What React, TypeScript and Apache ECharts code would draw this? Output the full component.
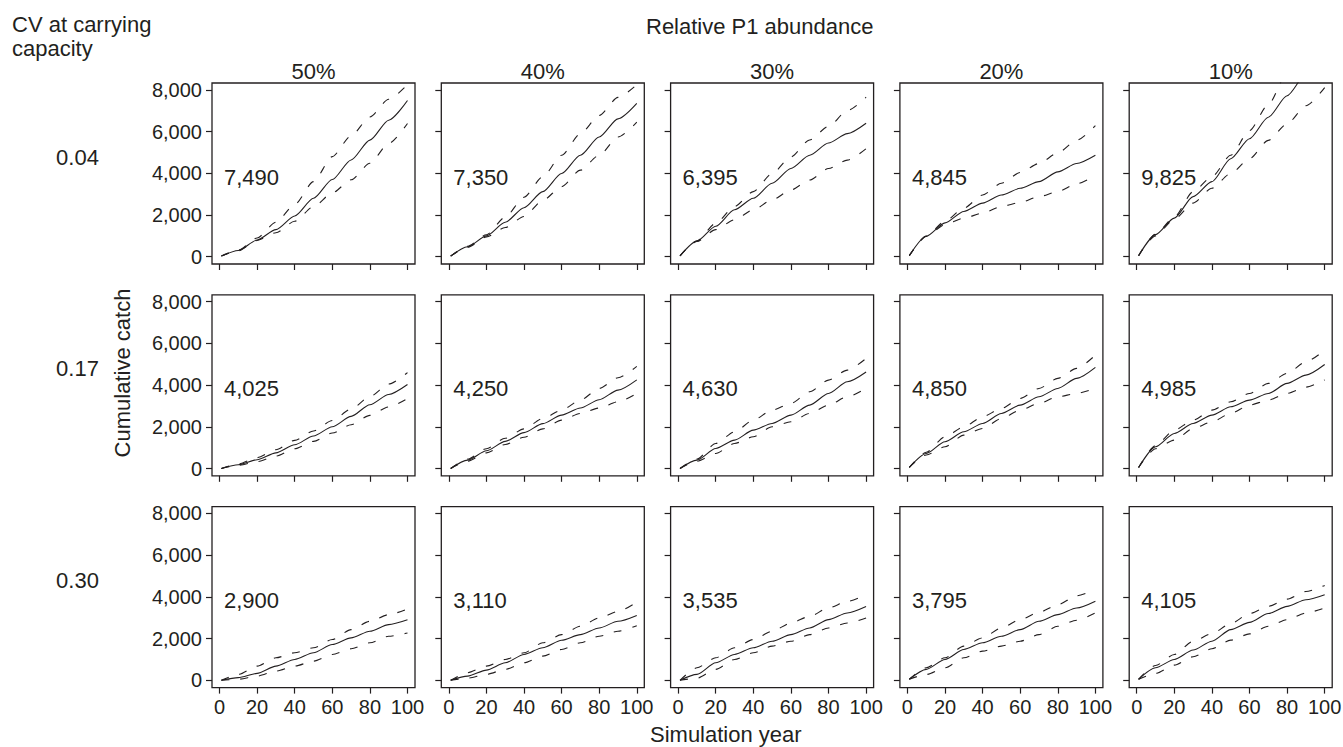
import React, { useEffect, useRef } from "react";
import * as echarts from "echarts";

// ---------- data ----------
const years = [1, 10, 20, 30, 40, 50, 60, 70, 80, 90, 100];
const columnLabels = ["50%", "40%", "30%", "20%", "10%"];
const rowLabels = ["0.04", "0.17", "0.30"];
const yTicks = [0, 2000, 4000, 6000, 8000];
const xTicks = [0, 20, 40, 60, 80, 100];
const finalCatch = [
  [7490, 7350, 6395, 4845, 9825],
  [4025, 4250, 4630, 4850, 4985],
  [2900, 3110, 3535, 3795, 4105],
];

// CV 0.04
const med_a50 = [30, 300, 800, 1300, 1950, 2800, 3700, 4640, 5590, 6545, 7490];
const upp_a50 = [30, 320, 900, 1650, 2500, 3600, 4800, 5800, 6700, 7550, 8250];
const low_a50 = [30, 280, 780, 1150, 1700, 2400, 3060, 3690, 4480, 5430, 6390];
const med_a40 = [30, 475, 1000, 1650, 2350, 3120, 3990, 4865, 5740, 6610, 7350];
const upp_a40 = [30, 500, 1050, 1900, 2850, 3835, 4865, 5900, 6770, 7640, 8250];
const low_a40 = [30, 450, 950, 1400, 1930, 2700, 3360, 4150, 4865, 5740, 6450];
const med_a30 = [40, 745, 1460, 2250, 2800, 3520, 4230, 4865, 5450, 5900, 6400];
const upp_a30 = [40, 760, 1600, 2410, 3120, 3990, 4785, 5600, 6250, 7000, 7650];
const low_a30 = [40, 730, 1300, 1775, 2250, 2725, 3200, 3680, 4230, 4630, 5180];
const med_a20 = [50, 980, 1620, 2170, 2570, 2960, 3280, 3600, 4070, 4470, 4865];
const upp_a20 = [50, 990, 1700, 2330, 2960, 3520, 4040, 4470, 4975, 5580, 6290];
const low_a20 = [50, 970, 1540, 1850, 2090, 2410, 2600, 2880, 3120, 3490, 3900];
const med_a10 = [50, 1060, 1850, 2880, 3600, 4700, 5660, 6690, 7720, 8750, 9825];
const upp_a10 = [50, 1080, 1900, 3120, 3835, 4865, 6050, 7300, 8800, 9900, 11000];
const low_a10 = [50, 1000, 1800, 2570, 3280, 3990, 4700, 5580, 6370, 7240, 8110];

// CV 0.17
const med_b50 = [0, 180, 420, 750, 1140, 1560, 2000, 2500, 3060, 3550, 4025];
const upp_b50 = [0, 220, 520, 900, 1350, 1800, 2300, 2850, 3450, 4050, 4600];
const low_b50 = [0, 150, 330, 600, 950, 1300, 1700, 2100, 2550, 2950, 3350];
const med_b40 = [0, 400, 850, 1300, 1720, 2150, 2560, 2900, 3300, 3760, 4250];
const upp_b40 = [0, 450, 950, 1450, 1900, 2400, 2800, 3280, 3840, 4350, 4900];
const low_b40 = [0, 350, 750, 1150, 1500, 1900, 2320, 2640, 2900, 3200, 3600];
const med_b30 = [0, 400, 960, 1360, 1840, 2160, 2560, 3040, 3600, 4160, 4630];
const upp_b30 = [0, 450, 1200, 1760, 2320, 2800, 3120, 3680, 4240, 4720, 5280];
const low_b30 = [0, 350, 720, 1200, 1520, 2000, 2240, 2640, 3040, 3440, 3850];
const med_b20 = [50, 720, 1280, 1760, 2160, 2640, 3040, 3440, 3840, 4320, 4850];
const upp_b20 = [50, 780, 1520, 2000, 2480, 2880, 3360, 3840, 4320, 4800, 5440];
const low_b20 = [50, 650, 1040, 1600, 1920, 2400, 2800, 3120, 3440, 3600, 3850];
const med_b10 = [50, 1040, 1680, 2160, 2560, 2960, 3280, 3600, 4080, 4480, 4985];
const upp_b10 = [50, 1100, 1840, 2320, 2800, 3200, 3600, 4080, 4560, 5120, 5680];
const low_b10 = [50, 950, 1360, 1920, 2240, 2640, 3040, 3280, 3600, 3900, 4250];

// CV 0.30
const med_c50 = [0, 127, 330, 680, 1000, 1320, 1717, 2035, 2350, 2670, 2900];
const upp_c50 = [0, 280, 680, 1080, 1320, 1560, 1955, 2430, 2830, 3150, 3420];
const low_c50 = [0, 50, 200, 445, 680, 920, 1240, 1510, 1800, 2115, 2270];
const med_c40 = [0, 200, 490, 840, 1240, 1560, 1920, 2190, 2510, 2830, 3110];
const upp_c40 = [0, 365, 680, 1000, 1320, 1800, 2190, 2590, 2990, 3300, 3750];
const low_c40 = [0, 100, 285, 525, 840, 1160, 1480, 1800, 2115, 2350, 2620];
const med_c30 = [0, 285, 840, 1240, 1560, 1875, 2190, 2510, 2910, 3230, 3535];
const upp_c30 = [0, 600, 1080, 1560, 1955, 2350, 2750, 3070, 3470, 3780, 4100];
const low_c30 = [0, 100, 525, 1000, 1320, 1640, 1875, 2190, 2510, 2750, 2990];
const med_c20 = [50, 525, 1000, 1480, 1800, 2115, 2430, 2830, 3150, 3470, 3795];
const upp_c20 = [50, 600, 1080, 1640, 2035, 2510, 2910, 3260, 3625, 4050, 4370];
const low_c20 = [50, 280, 600, 1080, 1400, 1640, 1875, 2190, 2590, 2880, 3230];
const med_c10 = [50, 600, 1000, 1450, 1875, 2430, 2780, 3200, 3545, 3860, 4105];
const upp_c10 = [50, 710, 1240, 1875, 2240, 2720, 3200, 3545, 3895, 4260, 4550];
const low_c10 = [50, 330, 730, 1130, 1510, 1925, 2225, 2590, 2910, 3230, 3470];

const panels = [
  [
    [med_a50, upp_a50, low_a50],
    [med_a40, upp_a40, low_a40],
    [med_a30, upp_a30, low_a30],
    [med_a20, upp_a20, low_a20],
    [med_a10, upp_a10, low_a10],
  ],
  [
    [med_b50, upp_b50, low_b50],
    [med_b40, upp_b40, low_b40],
    [med_b30, upp_b30, low_b30],
    [med_b20, upp_b20, low_b20],
    [med_b10, upp_b10, low_b10],
  ],
  [
    [med_c50, upp_c50, low_c50],
    [med_c40, upp_c40, low_c40],
    [med_c30, upp_c30, low_c30],
    [med_c20, upp_c20, low_c20],
    [med_c10, upp_c10, low_c10],
  ],
];

// ---------- layout ----------
const FONT = "'Liberation Sans', Arial, Helvetica, sans-serif";
const INK = "#231f20";
const L0 = 212;
const DX = 229.3;
const W = 203;
const T0 = 83;
const DY = 211.8;
const H = 181;

function fmt(v: number) {
  return v.toLocaleString("en-US");
}

export default function App() {
  const ref = useRef<HTMLDivElement>(null);
  useEffect(() => {
    if (!ref.current) return;
    const chart = echarts.init(ref.current, undefined, { renderer: "svg" });
    const grid: any[] = [];
    const xAxis: any[] = [];
    const yAxis: any[] = [];
    const series: any[] = [];
    const graphic: any[] = [];
    let idx = 0;
    for (let r = 0; r < 3; r++) {
      for (let c = 0; c < 5; c++) {
        const left = L0 + c * DX;
        const top = T0 + r * DY;
        grid.push({
          left,
          top,
          width: W,
          height: H,
          show: true,
          borderColor: INK,
          borderWidth: 1.3,
          backgroundColor: "transparent",
          containLabel: false,
          outerBoundsMode: "none",
        });
        xAxis.push({
          type: "value",
          gridIndex: idx,
          min: -4,
          max: 104,
          axisLine: { show: false, onZero: false },
          axisTick: {
            show: true,
            length: 6,
            customValues: xTicks,
            lineStyle: { color: INK, width: 1.2 },
          },
          axisLabel: {
            show: r === 2,
            customValues: xTicks,
            margin: 9,
            fontSize: 20,
            color: INK,
            fontFamily: FONT,
          },
          splitLine: { show: false },
        });
        yAxis.push({
          type: "value",
          gridIndex: idx,
          min: -350,
          max: 8330,
          axisLine: { show: false, onZero: false },
          axisTick: {
            show: true,
            length: 6,
            customValues: yTicks,
            lineStyle: { color: INK, width: 1.2 },
          },
          axisLabel: {
            show: c === 0,
            customValues: yTicks,
            formatter: (v: number) => fmt(v),
            margin: 10,
            fontSize: 20,
            color: INK,
            fontFamily: FONT,
          },
          splitLine: { show: false },
        });
        const [med, upp, low] = panels[r][c];
        const mk = (arr: number[], dashed: boolean) => ({
          type: "line",
          xAxisIndex: idx,
          yAxisIndex: idx,
          data: years.map((x, k) => [x, arr[k]]),
          showSymbol: false,
          symbol: "none",
          smooth: 0.25,
          smoothMonotone: "x",
          clip: true,
          silent: true,
          lineStyle: {
            color: INK,
            width: 1.1,
            type: dashed ? [8, 11] : "solid",
          },
        });
        series.push(mk(med, false), mk(upp, true), mk(low, true));
        graphic.push({
          type: "text",
          left: left + 12,
          top: top + 83,
          style: {
            text: fmt(finalCatch[r][c]),
            font: `22px ${FONT}`,
            fill: INK,
          },
        });
        idx++;
      }
    }
    for (let c = 0; c < 5; c++) {
      graphic.push({
        type: "text",
        x: L0 + c * DX + W / 2,
        y: 71,
        style: {
          text: columnLabels[c],
          font: `22px ${FONT}`,
          fill: INK,
          align: "center",
          verticalAlign: "middle",
        },
      });
    }
    for (let r = 0; r < 3; r++) {
      graphic.push({
        type: "text",
        x: 77.5,
        y: 157 + r * DY,
        style: {
          text: rowLabels[r],
          font: `22px ${FONT}`,
          fill: INK,
          align: "center",
          verticalAlign: "middle",
        },
      });
    }
    graphic.push(
      {
        type: "text",
        x: 12,
        y: 24,
        style: { text: "CV at carrying", font: `22px ${FONT}`, fill: INK, align: "left", verticalAlign: "middle" },
      },
      {
        type: "text",
        x: 12,
        y: 48,
        style: { text: "capacity", font: `22px ${FONT}`, fill: INK, align: "left", verticalAlign: "middle" },
      },
      {
        type: "text",
        x: 646,
        y: 26,
        style: { text: "Relative P1 abundance", font: `22px ${FONT}`, fill: INK, align: "left", verticalAlign: "middle" },
      },
      {
        type: "text",
        x: 650,
        y: 734,
        style: { text: "Simulation year", font: `22px ${FONT}`, fill: INK, align: "left", verticalAlign: "middle" },
      },
      {
        type: "text",
        x: 122,
        y: 373,
        rotation: Math.PI / 2,
        style: { text: "Cumulative catch", font: `22px ${FONT}`, fill: INK, align: "center", verticalAlign: "middle" },
      }
    );
    chart.setOption({
      animation: false,
      backgroundColor: "#ffffff",
      grid,
      xAxis,
      yAxis,
      series,
      graphic,
    });
    return () => chart.dispose();
  }, []);
  return (
    <div
      ref={ref}
      style={{ position: "fixed", left: 0, top: 0, width: 1343, height: 747 }}
    />
  );
}
